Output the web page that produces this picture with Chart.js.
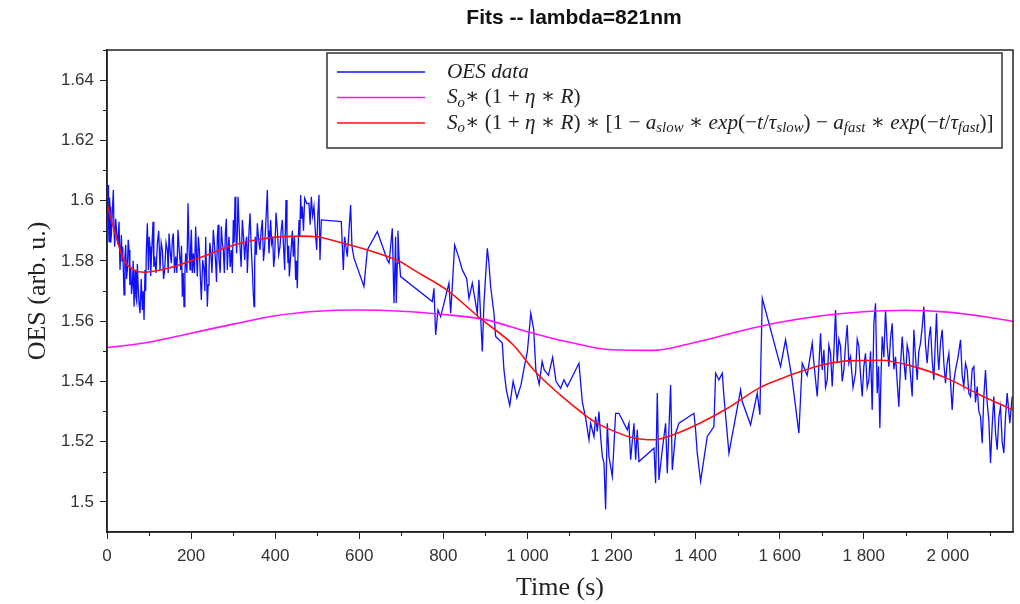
<!DOCTYPE html>
<html>
<head>
<meta charset="utf-8">
<title>Fits -- lambda=821nm</title>
<script src="https://cdn.jsdelivr.net/npm/chart.js@4.4.1/dist/chart.umd.min.js"></script>
<style>
  html, body { margin: 0; padding: 0; background: #fff; }
</style>
</head>
<body>
<canvas id="fits-chart" width="1020" height="604"></canvas>
<script>
// OES signal at 821 nm (blue)
const oesTime = [
  2.5, 3.6, 4.8, 6.0, 7.2, 8.8, 10.4, 12.6, 15.1, 16.7, 18.3, 20.7, 23.1, 26.2, 28.6, 31.0, 34.2, 35.8, 37.3, 40.5,
  42.5, 44.5, 46.4, 48.4, 50.4, 52.4, 54.4, 56.4, 58.3, 60.3, 62.3, 64.3, 66.7, 68.6, 70.6, 72.2, 73.8, 76.2, 78.6, 81.4,
  84.1, 86.1, 88.1, 90.4, 92.0, 93.6, 96.0, 98.4, 100.3, 102.3, 103.9, 105.5, 107.5, 109.5, 111.4, 113.4, 116.6, 119.8, 123.0, 126.1,
  128.9, 131.7, 134.5, 137.2, 140.4, 143.6, 145.5, 147.5, 150.3, 153.1, 155.4, 157.8, 160.6, 163.4, 166.2, 168.9, 172.1, 175.3, 177.2, 179.2,
  181.2, 183.2, 185.2, 187.2, 190.0, 192.7, 195.1, 197.5, 199.0, 200.6, 203.0, 205.4, 208.1, 210.9, 212.9, 214.9, 217.3, 219.7, 222.0, 224.4,
  227.6, 230.8, 232.8, 234.7, 236.7, 238.7, 240.6, 242.6, 244.6, 246.6, 249.7, 252.9, 255.7, 258.5, 260.5, 262.5, 264.4, 266.4, 269.2, 272.0,
  274.3, 276.7, 279.1, 281.5, 283.8, 286.2, 288.2, 290.2, 293.0, 295.8, 298.1, 300.5, 302.5, 304.5, 306.4, 308.4, 310.0, 311.6, 314.0, 316.4,
  319.1, 321.9, 324.7, 327.5, 329.8, 332.2, 333.8, 335.4, 337.8, 340.2, 342.9, 345.7, 347.7, 349.7, 351.2, 352.8, 355.2, 357.6, 360.7, 363.9,
  366.7, 369.5, 372.2, 375.0, 378.2, 381.4, 383.3, 385.3, 387.3, 389.3, 391.7, 394.1, 396.4, 398.8, 402.0, 405.2, 408.3, 411.5, 414.2, 417.0,
  419.8, 422.6, 424.2, 425.8, 428.1, 430.5, 432.1, 433.7, 436.0, 438.4, 440.8, 443.2, 445.9, 448.7, 450.7, 452.7, 454.7, 456.7, 458.6, 460.6,
  462.6, 464.6, 467.4, 470.2, 475.3, 480.4, 483.2, 486.0, 489.1, 492.3, 495.5, 498.7, 501.4, 504.2, 506.6, 509.8, 557.3, 562.1, 565.2, 571.6,
  579.5, 582.7, 587.5, 611.2, 619.2, 642.9, 666.8, 671.0, 678.6, 682.6, 686.5, 688.0, 690.5, 692.0, 694.5, 698.4,
  773.8, 777.7, 781.7, 787.2, 793.6, 801.5, 813.4, 817.4, 821.3, 826.9, 837.2, 845.1, 855.4, 861.0, 868.9, 880.8, 884.7, 888.7, 892.7, 896.6,
  904.6, 908.5, 912.5, 920.4, 924.4, 940.2, 944.2, 950, 958, 966, 975, 985, 992, 1000, 1008, 1015, 1020, 1028, 1035, 1040,
  1050, 1060, 1068, 1079.0, 1086.9, 1094.9, 1122.6, 1130.5, 1138.5, 1146.4, 1150.3, 1158.3, 1162.2, 1166.2, 1170.2, 1174.1, 1178.1, 1182.1, 1186.0, 1190.0,
  1194.0, 1201.9, 1209.8, 1217.7, 1237.5, 1241.5, 1245.5, 1253.4, 1257.4, 1261.3, 1265.3, 1301.0, 1304.9, 1308.9, 1312.8, 1320.8, 1328.7, 1332.7, 1340.6, 1344.6,
  1352.5, 1360.4, 1396.1, 1400.0, 1404.0, 1411.9, 1427.8, 1443.6, 1447.6, 1455.5, 1463.5, 1467.4, 1479.3, 1507.1, 1511.0, 1530.8, 1546.7, 1553.0, 1554.6, 1558.6,
  1602.1, 1614.0, 1629.8, 1645.7, 1653.6, 1665.5, 1677.4, 1681.4, 1689.3, 1693.2, 1697.2, 1701.2, 1705.2, 1709.1, 1713.1, 1717.0, 1721.0, 1725.0, 1729.0, 1732.9,
  1736.9, 1740.8, 1744.8, 1748.8, 1752.7, 1756.6, 1760.6, 1764.6, 1768.6, 1774.5, 1780.5, 1784.5, 1788.4, 1792.4, 1796.3, 1800.2, 1804.2, 1808.2, 1812.2, 1816.1,
  1820.1, 1824.1, 1828.0, 1832.0, 1835.1, 1838.3, 1841.1, 1843.9, 1847.8, 1851.8, 1855.8, 1859.7, 1863.6, 1867.6, 1871.6, 1875.6, 1879.5, 1883.5, 1887.4, 1891.4,
  1895.4, 1899.4, 1903.3, 1907.3, 1911.2, 1915.2, 1919.2, 1923.1, 1927.1, 1931.0, 1935.0, 1939.0, 1943.0, 1946.9, 1950.9, 1954.8, 1958.8, 1962.7, 1966.7, 1969.9,
  1973.1, 1975.8, 1978.6, 1982.6, 1986.6, 1990.5, 1994.5, 1998.4, 2002.4, 2006.3, 2010.3, 2014.3, 2018.3, 2024.2, 2030.2, 2034.1, 2038.1, 2042.0, 2046.0, 2050.0,
  2053.9, 2057.9, 2061.9, 2065.8, 2069.8, 2073.7, 2077.7, 2081.7, 2085.6, 2089.6, 2093.5, 2097.5, 2101.5, 2105.4, 2109.4, 2113.4, 2117.4, 2121.3, 2125.3, 2129.2,
  2133.2, 2137.1, 2141.1, 2147.5, 2153.0
];
const oesValues = [
  1.6052, 1.5930, 1.5864, 1.6010, 1.5980, 1.5860, 1.5886, 1.5960, 1.6035, 1.5900, 1.5847, 1.5940, 1.5891, 1.5864, 1.5930, 1.5770, 1.5886, 1.5800, 1.5847, 1.5687,
  1.5810, 1.5853, 1.5740, 1.5770, 1.5870, 1.5836, 1.5720, 1.5781, 1.5690, 1.5720, 1.5800, 1.5648, 1.5770, 1.5680, 1.5665, 1.5790, 1.5726, 1.5660, 1.5626, 1.5740,
  1.5637, 1.5700, 1.5604, 1.5770, 1.5700, 1.5836, 1.5925, 1.5770, 1.5880, 1.5847, 1.5750, 1.5803, 1.5870, 1.5930, 1.5780, 1.5814, 1.5760, 1.5858, 1.5900, 1.5770,
  1.5860, 1.5836, 1.5740, 1.5770, 1.5860, 1.5836, 1.5760, 1.5891, 1.5830, 1.5792, 1.5870, 1.5891, 1.5760, 1.5814, 1.5760, 1.5903, 1.5830, 1.5770, 1.5850, 1.5681,
  1.5760, 1.5648, 1.5760, 1.5825, 1.5760, 1.5991, 1.5840, 1.5770, 1.5850, 1.5903, 1.5760, 1.5825, 1.5760, 1.5914, 1.5820, 1.5748, 1.5880, 1.5836, 1.5750, 1.5670,
  1.5803, 1.5770, 1.5700, 1.5880, 1.5760, 1.5648, 1.5720, 1.5770, 1.5860, 1.5836, 1.5760, 1.5903, 1.5850, 1.5792, 1.5730, 1.5880, 1.5920, 1.5803, 1.5760, 1.5914,
  1.5860, 1.5836, 1.5760, 1.5891, 1.5940, 1.5770, 1.5840, 1.5880, 1.5780, 1.5836, 1.5760, 1.5936, 1.5860, 1.6013, 1.5900, 1.5825, 1.5900, 1.6013, 1.5920, 1.5847,
  1.5780, 1.5936, 1.5880, 1.5803, 1.5860, 1.5880, 1.5760, 1.5814, 1.5900, 1.5958, 1.5850, 1.5770, 1.5700, 1.5648, 1.5790, 1.5880, 1.5820, 1.5925, 1.5870, 1.5836,
  1.5900, 1.5936, 1.5800, 1.5847, 1.5940, 1.6035, 1.5900, 1.5825, 1.5870, 1.5936, 1.5860, 1.5880, 1.5780, 1.5814, 1.5960, 1.5903, 1.5820, 1.5847, 1.5900, 1.5936,
  1.5850, 1.5770, 1.5900, 1.6002, 1.5880, 1.5792, 1.5850, 1.5748, 1.5800, 1.5847, 1.5900, 1.5814, 1.5880, 1.5737, 1.5800, 1.5709, 1.5850, 1.5936, 1.5880, 1.6019,
  1.5940, 1.5980, 1.5900, 1.6008, 1.5990, 1.5991, 1.5920, 1.6013, 1.5950, 1.5980, 1.5900, 1.5836, 1.5950, 1.6019, 1.5803, 1.5936, 1.5930, 1.5770, 1.5880, 1.5814,
  1.5985, 1.5847, 1.5809, 1.5715, 1.5836, 1.5897, 1.5803, 1.5793, 1.5908, 1.5659, 1.5880, 1.5660, 1.5792, 1.5900, 1.5814, 1.5748,
  1.5665, 1.5709, 1.5554, 1.5637, 1.5615, 1.5659, 1.5726, 1.5626, 1.5715, 1.5853, 1.5809, 1.5770, 1.5742, 1.5676, 1.5726, 1.5626, 1.5737, 1.5615, 1.5499, 1.5659,
  1.5842, 1.5792, 1.5715, 1.5626, 1.5549, 1.5527, 1.5438, 1.5370, 1.5320, 1.5400, 1.5345, 1.5390, 1.5444, 1.5500, 1.5626, 1.5571, 1.5438, 1.5390, 1.5466, 1.5438,
  1.5420, 1.5480, 1.5400, 1.5377, 1.5405, 1.5383, 1.5460, 1.5333, 1.5278, 1.5206, 1.5261, 1.5217, 1.5283, 1.5234, 1.5300, 1.5217, 1.5151, 1.5129, 1.4975, 1.5261,
  1.5151, 1.5084, 1.5294, 1.5294, 1.5239, 1.5261, 1.5140, 1.5261, 1.5140, 1.5239, 1.5134, 1.5178, 1.5062, 1.5361, 1.5073, 1.5173, 1.5261, 1.5095, 1.5388, 1.5106,
  1.5228, 1.5261, 1.5294, 1.5239, 1.5162, 1.5068, 1.5217, 1.5250, 1.5427, 1.5405, 1.5427, 1.5350, 1.5162, 1.5372, 1.5333, 1.5256, 1.5361, 1.5289, 1.5416, 1.5676,
  1.5449, 1.5538, 1.5405, 1.5228, 1.5460, 1.5420, 1.5527, 1.5460, 1.5350, 1.5450, 1.5560, 1.5438, 1.5505, 1.5380, 1.5405, 1.5520, 1.5493, 1.5383, 1.5500, 1.5637,
  1.5460, 1.5540, 1.5516, 1.5400, 1.5438, 1.5520, 1.5587, 1.5460, 1.5482, 1.5380, 1.5427, 1.5540, 1.5516, 1.5420, 1.5350, 1.5450, 1.5493, 1.5380, 1.5405, 1.5500,
  1.5305, 1.5593, 1.5659, 1.5361, 1.5450, 1.5245, 1.5420, 1.5549, 1.5480, 1.5637, 1.5520, 1.5449, 1.5540, 1.5593, 1.5440, 1.5482, 1.5400, 1.5316, 1.5450, 1.5549,
  1.5470, 1.5405, 1.5520, 1.5493, 1.5420, 1.5350, 1.5571, 1.5480, 1.5405, 1.5500, 1.5527, 1.5580, 1.5648, 1.5520, 1.5460, 1.5540, 1.5582, 1.5470, 1.5405, 1.5520,
  1.5626, 1.5500, 1.5438, 1.5530, 1.5571, 1.5460, 1.5394, 1.5460, 1.5493, 1.5400, 1.5305, 1.5400, 1.5438, 1.5480, 1.5538, 1.5420, 1.5383, 1.5460, 1.5438, 1.5360,
  1.5350, 1.5440, 1.5449, 1.5330, 1.5383, 1.5300, 1.5283, 1.5195, 1.5350, 1.5438, 1.5330, 1.5272, 1.5129, 1.5250, 1.5350, 1.5230, 1.5173, 1.5280, 1.5316, 1.5200,
  1.5162, 1.5280, 1.5361, 1.5261, 1.5350
];

// S_o*(1+eta*R) (magenta)
const baseTime = [0, 100, 200, 300, 400, 500, 600, 700, 800, 900, 1000, 1100, 1200, 1300, 1400, 1500, 1600, 1700, 1800, 1900, 2000, 2100, 2155];
const baseValues = [1.5512, 1.5530, 1.5560, 1.5590, 1.5618, 1.5633, 1.5637, 1.5633, 1.5622, 1.5605, 1.5565, 1.5530, 1.5505, 1.5503, 1.5530, 1.5565, 1.5596, 1.5618, 1.5631, 1.5636, 1.5630, 1.5612, 1.5599];

// full fit with slow/fast exponentials (red)
const fitTime = [0, 17, 40, 64, 88, 143, 223, 302, 382, 461, 500, 540, 620, 698, 729, 809, 888, 967, 1015, 1078, 1126, 1158, 1198, 1253, 1300, 1356, 1411, 1475, 1554, 1602, 1634, 1681, 1713, 1761, 1840, 1919, 1998, 2077, 2155];
const fitValues = [1.5990, 1.5902, 1.5803, 1.5770, 1.5762, 1.5775, 1.5812, 1.5853, 1.5876, 1.5882, 1.5880, 1.5867, 1.5836, 1.5797, 1.5770, 1.5703, 1.5609, 1.5520, 1.5438, 1.5355, 1.5300, 1.5267, 1.5239, 1.5212, 1.5206, 1.5228, 1.5262, 1.5310, 1.5380, 1.5408, 1.5425, 1.5447, 1.5458, 1.5468, 1.5470, 1.5449, 1.5410, 1.5355, 1.5305];

const seriesLabels = [
  'OES data',
  'S_o\u2217 (1 + \u03b7 \u2217 R)',
  'S_o\u2217 (1 + \u03b7 \u2217 R) \u2217 [1 \u2212 a_{slow} \u2217 exp(\u2212t/\u03c4_{slow}) \u2212 a_{fast} \u2217 exp(\u2212t/\u03c4_{fast})]'
];
const seriesColors = ['#1010ff', '#ff10ff', '#ff1010'];

const xTicks = [0, 200, 400, 600, 800, 1000, 1200, 1400, 1600, 1800, 2000];
const yTicks = [1.5, 1.52, 1.54, 1.56, 1.58, 1.6, 1.62, 1.64];
const xMax = 2155;
const yMin = 1.49, yMax = 1.65;

const toPoints = (ts, vs) => ts.map((t, i) => ({ x: t, y: vs[i] }));

// split "S_o" / "a_{slow}" into normal and subscript pieces
function parseMath(str) {
  const parts = [];
  let i = 0;
  while (i < str.length) {
    if (str[i] === '_') {
      if (str[i + 1] === '{') {
        const end = str.indexOf('}', i);
        parts.push({ text: str.slice(i + 2, end), sub: true });
        i = end + 1;
      } else {
        parts.push({ text: str[i + 1], sub: true });
        i += 2;
      }
    } else {
      let j = i;
      while (j < str.length && str[j] !== '_') j++;
      parts.push({ text: str.slice(i, j), sub: false });
      i = j;
    }
  }
  return parts;
}

// draw math text: letters in italic, the rest upright
function drawMath(ctx, str, x, y, size, measureOnly) {
  let cx = x;
  parseMath(str).forEach(p => {
    const s = p.sub ? size * 0.7 : size;
    const dy = p.sub ? size * 0.25 : 0;
    for (const ch of p.text) {
      const italic = /\p{L}/u.test(ch);
      ctx.font = (italic ? 'italic ' : '') + s + 'px "Liberation Serif", "DejaVu Serif", serif';
      if (!measureOnly) ctx.fillText(ch, cx, y + dy);
      cx += ctx.measureText(ch).width;
    }
  });
  return cx - x;
}

const legendBox = {
  id: 'legendBox',
  afterDraw(chart) {
    const { ctx, chartArea: a } = chart;
    const box = { left: 327, top: a.top + 3, right: a.right - 11, bottom: a.top + 98 };
    ctx.save();
    ctx.fillStyle = '#fff';
    ctx.fillRect(box.left, box.top, box.right - box.left, box.bottom - box.top);
    ctx.strokeStyle = '#333';
    ctx.lineWidth = 1.5;
    ctx.strokeRect(box.left, box.top, box.right - box.left, box.bottom - box.top);

    // fit the longest label in the box
    const textX = box.left + 120;
    const room = box.right - 8 - textX;
    const longest = drawMath(ctx, seriesLabels[2], 0, 0, 17, true);
    const size = 17 * room / longest;

    ctx.textBaseline = 'middle';
    ctx.fillStyle = '#222';
    chart.data.datasets.forEach((ds, i) => {
      const ly = box.top + 19 + i * 25.5;
      ctx.strokeStyle = ds.borderColor;
      ctx.lineWidth = 1.5;
      ctx.beginPath();
      ctx.moveTo(box.left + 10, ly);
      ctx.lineTo(box.left + 98, ly);
      ctx.stroke();
      drawMath(ctx, ds.label, textX, ly, size, false);
    });
    ctx.restore();
  }
};

// closed frame + small minor ticks
const frame = {
  id: 'frame',
  afterLayout(chart) {
    // title sits a little right of the plot centre
    chart.titleBlock.left += 28;
  },
  afterDraw(chart) {
    const { ctx, chartArea: a, scales: { x, y } } = chart;
    ctx.save();
    ctx.strokeStyle = '#222';
    ctx.lineWidth = 1.5;
    ctx.strokeRect(a.left, a.top, a.right - a.left, a.bottom - a.top);
    ctx.lineWidth = 1;
    ctx.beginPath();
    for (let v = 100; v < x.max; v += 200) {
      const px = Math.round(x.getPixelForValue(v)) + 0.5;
      ctx.moveTo(px, a.bottom);
      ctx.lineTo(px, a.bottom + 4);
    }
    for (let k = 0; k < 8; k++) {
      const py = Math.round(y.getPixelForValue(1.51 + k * 0.02)) + 0.5;
      ctx.moveTo(a.left, py);
      ctx.lineTo(a.left - 4, py);
    }
    ctx.stroke();
    ctx.restore();
  }
};

const tickFont = { family: '"Liberation Sans", Arial, sans-serif', size: 17 };
const axisTitleFont = { family: '"Liberation Serif", "Times New Roman", serif', size: 26 };

new Chart(document.getElementById('fits-chart'), {
  type: 'line',
  data: {
    datasets: [
      { label: seriesLabels[0], data: toPoints(oesTime, oesValues), borderColor: seriesColors[0], borderWidth: 1.3, order: 3 },
      { label: seriesLabels[1], data: toPoints(baseTime, baseValues), borderColor: seriesColors[1], borderWidth: 1.6, cubicInterpolationMode: 'monotone', order: 2 },
      { label: seriesLabels[2], data: toPoints(fitTime, fitValues), borderColor: seriesColors[2], borderWidth: 1.6, cubicInterpolationMode: 'monotone', order: 1 }
    ]
  },
  options: {
    responsive: false,
    animation: false,
    devicePixelRatio: 1,
    elements: { point: { radius: 0 }, line: { tension: 0, fill: false } },
    layout: { padding: { left: 0, right: 7, top: 0, bottom: 0 } },
    plugins: {
      legend: { display: false },
      tooltip: { enabled: false },
      title: {
        display: true,
        text: 'Fits -- lambda=821nm',
        fullSize: false,
        color: '#111',
        font: { family: '"Liberation Sans", Arial, sans-serif', size: 21, weight: 'bold' },
        padding: { top: 5.4, bottom: 19.4 }
      }
    },
    scales: {
      x: {
        type: 'linear',
        min: 0,
        max: xMax,
        afterFit: s => { s.height = 72; },
        afterBuildTicks: s => { s.ticks = xTicks.map(v => ({ value: v })); },
        grid: { drawOnChartArea: false, drawTicks: true, tickLength: 7, color: '#222' },
        border: { display: true, color: '#222', width: 1.5 },
        ticks: {
          maxRotation: 0,
          autoSkip: false,
          padding: 7,
          color: '#333',
          font: tickFont,
          callback: v => String(v).replace(/\B(?=(\d{3})+(?!\d))/g, ' ')
        },
        title: { display: true, text: 'Time (s)', color: '#222', font: axisTitleFont, padding: { top: 0, bottom: 0 } }
      },
      y: {
        min: yMin,
        max: yMax,
        afterFit: s => { s.width = 107; },
        afterBuildTicks: s => { s.ticks = yTicks.map(v => ({ value: v })); },
        grid: { drawOnChartArea: false, drawTicks: true, tickLength: 7, color: '#222' },
        border: { display: true, color: '#222', width: 1.5 },
        ticks: {
          padding: 6,
          color: '#333',
          font: tickFont,
          callback: v => String(+v.toFixed(2))
        },
        title: { display: true, text: 'OES (arb. u.)', color: '#222', font: axisTitleFont, padding: { top: 22.4, bottom: 0 } }
      }
    }
  },
  plugins: [legendBox, frame]
});
</script>
</body>
</html>
